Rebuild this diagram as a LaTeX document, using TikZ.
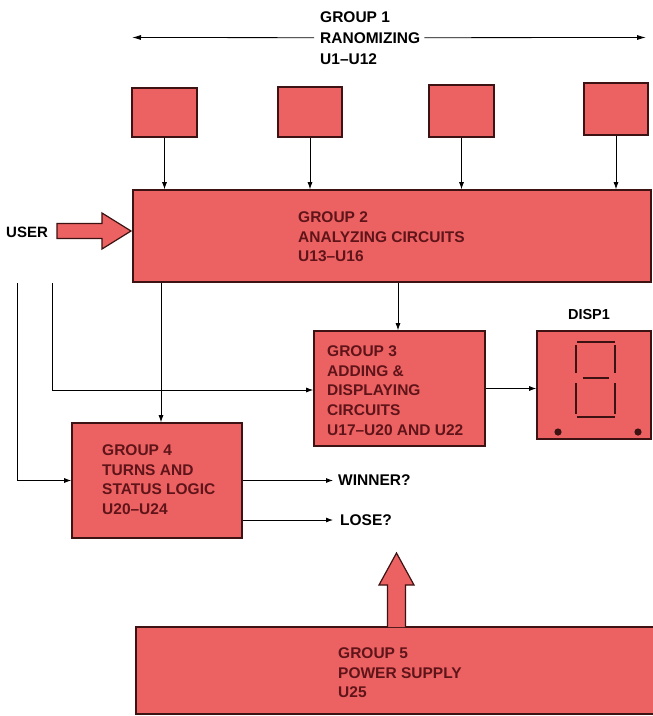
\documentclass[tikz,border=0pt]{standalone}
\usepackage{fontspec}
\setmainfont{Liberation Sans}
\usetikzlibrary{arrows.meta}
\definecolor{boxred}{RGB}{236,98,98}
\definecolor{edge}{RGB}{60,18,18}
\definecolor{ink}{RGB}{95,20,25}
\begin{document}
\begin{tikzpicture}[x=1pt,y=-1pt,
  blk/.style={draw=edge, line width=1.6pt, fill=boxred, inner sep=0pt},
  lbl/.style={text=ink, font=\bfseries\fontsize{15.5}{19.7}\selectfont, align=left, inner sep=0pt, anchor=north west},
  plain/.style={text=black, font=\bfseries\fontsize{15.5}{19}\selectfont, inner sep=0pt},
  arr/.style={line width=0.8pt, -{Latex[length=7pt,width=5pt]}},
  fat/.style={draw=edge, line width=1.2pt, fill=boxred, line join=miter},
  seg/.style={draw=edge, line width=2.7pt}]
\useasboundingbox (0,0) rectangle (653,716);
\fill[white] (0,0) rectangle (653,716);

% Group 1 label and span arrow
\node[plain, align=left, anchor=north west, font=\bfseries\fontsize{15.5}{21}\selectfont] (g1) at (320,11) {GROUP 1\\RANOMIZING\\U1--U12};
\coordinate (tl) at (132,37.5);
\coordinate (tr) at (646,37.5);
\draw[line width=0.8pt, -{Latex[length=9pt,width=5pt]}, shorten <=6pt] (g1.west) -- (tl);
\draw[line width=0.8pt, -{Latex[length=9pt,width=5pt]}, shorten <=4pt] (g1.east) -- (tr);

% randomizing boxes
\node[blk, minimum width=65pt, minimum height=49pt] (b1) at (164.5,112.5) {};
\node[blk, minimum width=64pt, minimum height=50pt] (b2) at (310,112) {};
\node[blk, minimum width=65pt, minimum height=52pt] (b3) at (461.5,111) {};
\node[blk, minimum width=64pt, minimum height=52pt] (b4) at (616,109) {};

% Group 2
\node[blk, minimum width=518pt, minimum height=92pt] (g2) at (392,236) {};
\node[lbl] (t2) at (298,211.5) {GROUP 2\\ANALYZING CIRCUITS\\U13--U16};
\foreach \b in {b1,b2,b3,b4} \draw[arr] (\b.south) -- (\b.south |- g2.north);

% USER
\node[plain, anchor=west, font=\bfseries\fontsize{15}{18}\selectfont] (user) at (6,232) {USER};
\draw[fat] (57,223.5) -- (102,223.5) -- (102,213) -- (131,231) -- (102,249) -- (102,238.5) -- (57,238.5) -- cycle;

% Group 3
\node[blk, minimum width=171pt, minimum height=115pt] (g3) at (399.5,388.5) {};
\node[lbl] (t3) at (327,345.5) {GROUP 3\\ADDING \&\\DISPLAYING\\CIRCUITS\\U17--U20 AND U22};

% Display
\node[blk, minimum width=114pt, minimum height=108pt] (disp) at (594,385) {};
\node[plain, font=\bfseries\fontsize{14.5}{17}\selectfont] (dl) at (589,315) {DISP1};
\draw[seg] (577,342) -- (615,342);
\draw[seg] (583,378) -- (609,378);
\draw[seg] (577,417) -- (615,417);
\draw[seg] (576,345) -- (576,373);
\draw[seg] (576,383) -- (576,414);
\draw[seg] (615,345) -- (615,373);
\draw[seg] (615,383) -- (615,414);
\fill[edge] (558,432) circle (3.6);
\fill[edge] (638,432) circle (3.6);

% Group 4
\node[blk, minimum width=170pt, minimum height=115pt] (g4) at (157,480.5) {};
\node[lbl] (t4) at (102,444.5) {GROUP 4\\TURNS AND\\STATUS LOGIC\\U20--U24};

% outputs
\node[plain, anchor=west, font=\bfseries\fontsize{15.5}{18}\selectfont] (win) at (338,480.5) {WINNER?};
\node[plain, anchor=west, font=\bfseries\fontsize{15.5}{18}\selectfont] (lose) at (340,520) {LOSE?};
\draw[arr] (g4.east) -- ([xshift=-5pt]win.west);
\draw[arr] (g4.east |- lose.west) -- ([xshift=-7pt]lose.west);

% internal connectors
\coordinate (s1) at (17,283);
\coordinate (s2) at (52,283);
\draw[arr] (s1) |- (g4.west);
\draw[arr] (s2) |- ([yshift=-1.5pt]g3.west);
\draw[arr] ([xshift=4pt]g4.north |- g2.south) -- ([xshift=4pt]g4.north);
\draw[arr] ([xshift=-1.5pt]g3.north |- g2.south) -- ([xshift=-1.5pt]g3.north);
\draw[arr] (g3.east) -- (g3.east -| disp.west);

% Group 5
\node[blk, minimum width=524pt, minimum height=87pt] (g5) at (398,670.5) {};
\node[lbl] (t5) at (338,647.5) {GROUP 5\\POWER SUPPLY\\U25};
\draw[fat] (387.5,627) -- (387.5,585) -- (379,585) -- (396.5,553) -- (414,585) -- (405.5,585) -- (405.5,627);
\end{tikzpicture}
\end{document}
